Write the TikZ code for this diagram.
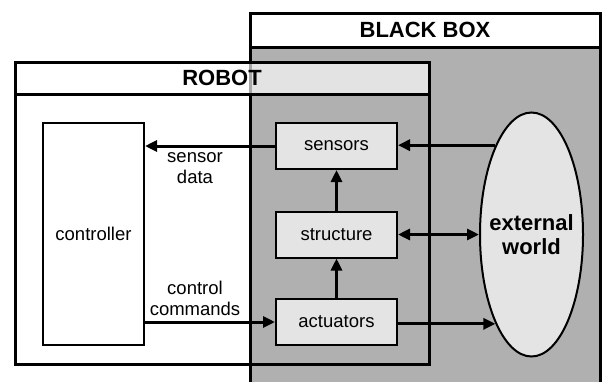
\documentclass[tikz,border=0pt]{standalone}
\usepackage{fontspec}
\setmainfont{Liberation Sans}
\usetikzlibrary{arrows.meta,shapes.geometric}

\definecolor{boxgray}{HTML}{B0B0B0}
\definecolor{partfill}{HTML}{E4E4E4}

\tikzset{
  unit/.style={draw, line width=2pt, fill=partfill, minimum width=121pt,
    minimum height=46pt, inner sep=0pt, font=\fontsize{18.5}{21}\selectfont},
  frame/.style={draw, line width=3pt},
  title/.style={font=\fontsize{22}{24}\selectfont\bfseries, inner sep=0pt},
  flow/.style={line width=3pt, -{Triangle[length=12pt,width=11pt]}},
  biflow/.style={line width=3pt, {Triangle[length=12pt,width=11pt]}-{Triangle[length=12pt,width=11pt]}},
  note/.style={align=center, inner sep=0pt, font=\fontsize{18.5}{21}\selectfont}
}

\begin{document}
\begin{tikzpicture}[x=1pt, y=-1pt]
  \useasboundingbox (0,0) rectangle (602,381);

  % black box: grey body and white title bar
  \fill[boxgray] (250,47) rectangle (600.5,395);
  \fill[white] (250,13) rectangle (600.5,47);
  \draw[frame] (250,395) -- (250,13) -- (600.5,13) -- (600.5,395);
  \draw[frame] (250,47) -- (600.5,47);
  \node[title] (bbtitle) at (425,30) {BLACK BOX};

  % robot: translucent title bar, open body
  \fill[white, fill opacity=0.65] (15,62) rectangle (429,94);
  \draw[frame] (15,62) rectangle (429,364);
  \draw[frame] (15,94) -- (429,94);
  \node[title] (robottitle) at (222,78) {ROBOT};

  % controller
  \node[draw, line width=2pt, fill=white, minimum width=101pt, minimum height=222pt,
    inner sep=0pt, font=\fontsize{18.5}{21}\selectfont] (ctrl) at (93.5,234) {controller};

  % robot parts inside the black box
  \node[unit] (sensors) at (336.5,146) {sensors};
  \node[unit] (structure) at (336.5,234.5) {structure};
  \node[unit] (actuators) at (336.5,322) {actuators};

  % external world: the ellipse and its label
  \node[draw, line width=2pt, fill=partfill, ellipse, minimum width=103pt,
    minimum height=244pt, inner sep=0pt] (world) at (531.5,234.5) {};
  \node[align=center, inner sep=0pt, font=\fontsize{22}{24}\selectfont\bfseries]
    (worldlabel) at (world.center) {external\\world};

  % signal flow
  \draw[flow] (sensors.west) -- (sensors.west -| ctrl.east);
  \draw[flow] (actuators.west -| ctrl.east) -- (actuators.west);
  \draw[flow] (actuators.north) -- (structure.south);
  \draw[flow] (structure.north) -- (sensors.south);
  \draw[flow] (world.112) -- (world.112 -| sensors.east);
  \draw[biflow] (structure.east) -- (world.west);
  \draw[flow] (world.-112 -| actuators.east) -- (world.-112);

  \node[note] (sdata) at (195,168) {sensor\\data};
  \node[note] (ccmd) at (195,298) {control\\commands};
\end{tikzpicture}
\end{document}
